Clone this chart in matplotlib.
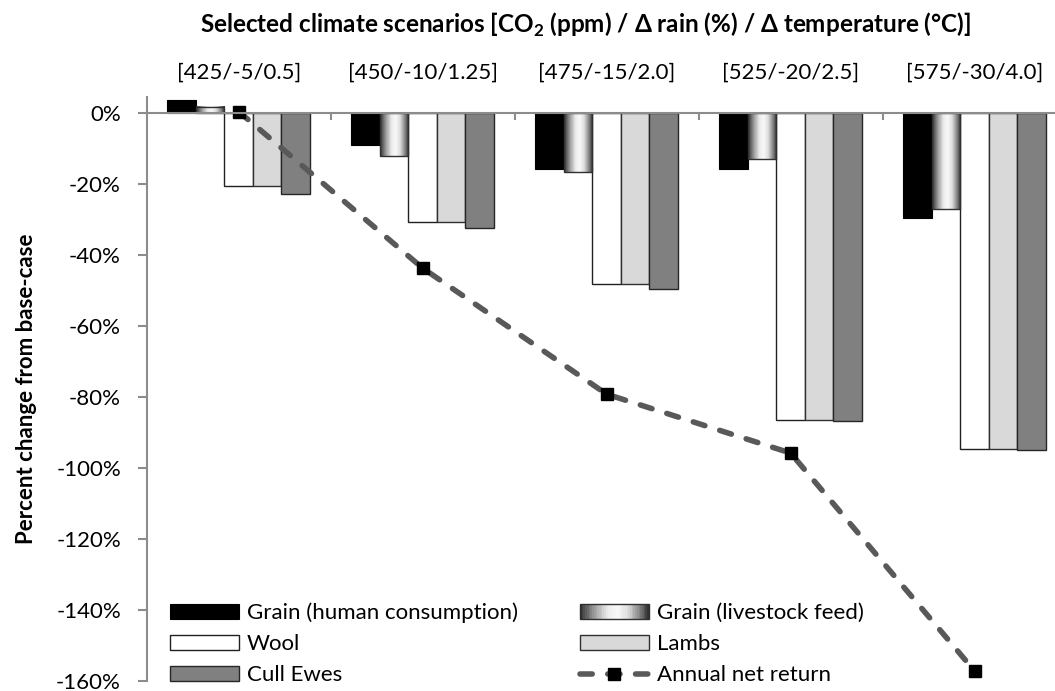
import numpy as np
import matplotlib
matplotlib.use('Agg')
import matplotlib.pyplot as plt
from matplotlib.colors import LinearSegmentedColormap
from matplotlib.patches import Rectangle
from matplotlib.legend_handler import HandlerBase
from matplotlib.ticker import FuncFormatter

plt.rcParams['font.family'] = ['Lato', 'DejaVu Sans']

# Datos (% de cambio respecto al caso base)
escenarios = ['[425/-5/0.5]', '[450/-10/1.25]', '[475/-15/2.0]', '[525/-20/2.5]', '[575/-30/4.0]']
grano_humano = [3.6, -8.9, -15.7, -15.7, -29.7]
grano_ganado = [1.8, -12.0, -16.7, -12.9, -27.1]
lana = [-20.6, -30.8, -48.3, -86.4, -94.7]
corderos = [-20.6, -30.6, -48.3, -86.4, -94.7]
ovejas = [-22.7, -32.5, -49.7, -86.7, -94.9]
retorno_neto = [0.4, -43.7, -79.2, -95.8, -157.2]

# Degradado horizontal (oscuro - blanco - oscuro) para "Grain (livestock feed)"
degradado = LinearSegmentedColormap.from_list('grad', [
    (0.0, '#2e2e2e'), (0.2, '#9a9a9a'), (0.4, '#ececec'), (0.55, '#f8f8f8'),
    (0.7, '#dcdcdc'), (0.88, '#7c7c7c'), (1.0, '#2a2a2a')])


class HandlerDegradado(HandlerBase):
    def create_artists(self, legend, orig_handle, xdescent, ydescent,
                       width, height, fontsize, trans):
        n = 40
        arts = []
        for i in range(n):
            r = Rectangle((-xdescent + i * width / n, -ydescent), width / n + 0.3, height,
                          facecolor=degradado((i + 0.5) / n), edgecolor='none', transform=trans)
            arts.append(r)
        arts.append(Rectangle((-xdescent, -ydescent), width, height, facecolor='none',
                              edgecolor='#303030', linewidth=1, transform=trans))
        return arts


fig = plt.figure(figsize=(10.55, 6.91), dpi=100)
ax = fig.add_axes([0.139, 0.0145, 0.872, 0.8451])

x = np.arange(len(escenarios))
w = 0.155
gris_eje = '#8c8c8c'

b1 = ax.bar(x - 2 * w, grano_humano, w, color='black', edgecolor='black', linewidth=0.8,
            label='Grain (human consumption)')
b2 = ax.bar(x - w, grano_ganado, w, facecolor='none', edgecolor='#303030', linewidth=1,
            label='Grain (livestock feed)', zorder=3)
b3 = ax.bar(x, lana, w, color='white', edgecolor='#202020', linewidth=1, label='Wool')
b4 = ax.bar(x + w, corderos, w, color='#d9d9d9', edgecolor='#303030', linewidth=1, label='Lambs')
b5 = ax.bar(x + 2 * w, ovejas, w, color='#808080', edgecolor='#262626', linewidth=1, label='Cull Ewes')

grad = np.linspace(0, 1, 256).reshape(1, -1)
for p in b2.patches:
    x0, y0, bw, bh = p.get_x(), p.get_y(), p.get_width(), p.get_height()
    ax.imshow(grad, cmap=degradado, aspect='auto',
              extent=[x0, x0 + bw, min(y0, y0 + bh), max(y0, y0 + bh)],
              zorder=2.5, interpolation='bilinear')

linea, = ax.plot(x, retorno_neto, color='#595959', linestyle=(0, (2.2, 2.8)), linewidth=4,
                 dash_capstyle='round', marker='s', markersize=9,
                 markerfacecolor='black', markeredgecolor='black',
                 label='Annual net return', zorder=4, clip_on=False)

ax.axhline(0, color=gris_eje, linewidth=1.5, zorder=5)
ax.vlines(np.arange(1, len(escenarios)) - 0.5, -2.0, 0, color=gris_eje, linewidth=1.5, zorder=5)

ax.set_xlim(-0.5, len(escenarios) - 0.5)
ax.set_ylim(-160, 4.5)
ax.set_yticks(np.arange(-160, 1, 20))
ax.yaxis.set_major_formatter(FuncFormatter(lambda v, p: f'{v:.0f}%'))
ax.tick_params(axis='y', length=6.5, width=1.5, color=gris_eje, labelsize=16, pad=12)
ax.xaxis.tick_top()
ax.set_xticks(x)
ax.set_xticklabels(escenarios)
ax.tick_params(axis='x', length=0, labelsize=16, pad=10)
for s in ['top', 'right', 'bottom']:
    ax.spines[s].set_visible(False)
ax.spines['left'].set_color(gris_eje)
ax.spines['left'].set_linewidth(1.5)

ax.set_ylabel('Percent change from base-case', fontsize=16, fontweight='bold', labelpad=14)
fig.text(0.555, 0.964, 'Selected climate scenarios [CO$_\\mathregular{2}$ (ppm) / Δ rain (%) / Δ temperature (°C)]',
         ha='center', va='center', fontsize=17.5, fontweight='bold')

opciones = dict(frameon=False, fontsize=16, handlelength=3.1, handleheight=0.7,
                labelspacing=0.5, handletextpad=0.36, borderpad=0, borderaxespad=0,
                loc='lower left', bbox_transform=fig.transFigure)
col1 = [b1, b3, b5]
col2 = [b2, b4, linea]
leg1 = ax.legend(handles=col1, labels=[h.get_label() for h in col1],
                 bbox_to_anchor=(170 / 1055, 0.008), **opciones)
ax.add_artist(leg1)
ax.legend(handles=col2, labels=[h.get_label() for h in col2],
          bbox_to_anchor=(580 / 1055, 0.008), handler_map={b2: HandlerDegradado()}, **opciones)

fig.savefig('out.png', dpi=100)
plt.close(fig)
